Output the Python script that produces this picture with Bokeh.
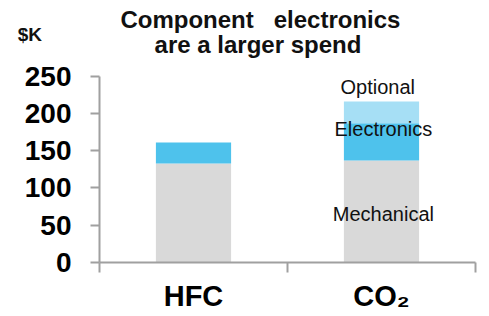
from bokeh.plotting import figure
from bokeh.models import Range1d, FixedTicker, Label, ColumnDataSource
from bokeh.embed import file_html
from bokeh.resources import INLINE

categories = ["HFC", "CO\u2082"]
segments = ["Mechanical", "Electronics", "Optional"]
mechanical = [133, 137]
electronics = [28, 50]
optional = [0, 29]
y_ticks = [0, 50, 100, 150, 200, 250]
colors = ["#D9D9D9", "#4EC2EC", "#A6DFF5"]

FONT = "Liberation Sans"
AXIS_GRAY = "#A0A0A0"
NBSP = "\u00a0"

# layout (pixels): canvas size and where the axes sit on it
W, H = 484, 316
AX_LEFT, AX_RIGHT = 99, 475      # x of value 0 and of the last category boundary
AX_BOTTOM, AX_TOP = 262, 75.7    # y of value 0 and of value 250
Y_MAX = y_ticks[-1]
n = len(categories)
px_x = (AX_RIGHT - AX_LEFT) / n
px_y = (AX_BOTTOM - AX_TOP) / Y_MAX
x_range = Range1d(-AX_LEFT / px_x, (W - AX_LEFT) / px_x)
y_range = Range1d(-(H - AX_BOTTOM) / px_y, AX_BOTTOM / px_y)

xs = [i + 0.5 for i in range(n)]
source = ColumnDataSource(dict(x=xs, Mechanical=mechanical, Electronics=electronics, Optional=optional))

p = figure(width=W, height=H, output_backend="svg", toolbar_location=None,
           x_range=x_range, y_range=y_range,
           min_border_left=0, min_border_right=0, min_border_top=0, min_border_bottom=0)
p.outline_line_color = None
p.xgrid.visible = False
p.ygrid.visible = False
p.background_fill_color = "white"
p.border_fill_color = "white"

p.vbar_stack(segments, x="x", width=0.4, source=source, color=colors, line_color=None)

# y axis, pinned at x = 0
ya = p.yaxis[0]
ya.fixed_location = 0
ya.bounds = (0, Y_MAX)
ya.ticker = FixedTicker(ticks=y_ticks)
ya.major_tick_out = 9
ya.major_tick_in = 0
ya.minor_tick_out = 0
ya.minor_tick_in = 0
ya.axis_line_color = AXIS_GRAY
ya.axis_line_width = 2
ya.major_tick_line_color = AXIS_GRAY
ya.major_tick_line_width = 2
ya.major_label_text_font = FONT
ya.major_label_text_font_size = "28px"
ya.major_label_text_font_style = "bold"
ya.major_label_text_color = "black"
ya.major_label_standoff = 19

# x axis, pinned at y = 0: marks at category boundaries, labels at centres
xa = p.xaxis[0]
xa.fixed_location = 0
xa.bounds = (0, n)
xa.ticker = FixedTicker(ticks=xs, minor_ticks=list(range(n + 1)))
xa.major_label_overrides = {x: c for x, c in zip(xs, categories)}
xa.minor_tick_out = 10
xa.minor_tick_in = 0
xa.minor_tick_line_color = AXIS_GRAY
xa.minor_tick_line_width = 2
xa.major_tick_out = 0
xa.major_tick_in = 0
xa.axis_line_color = AXIS_GRAY
xa.axis_line_width = 2
xa.major_label_text_font = FONT
xa.major_label_text_font_size = "29px"
xa.major_label_text_font_style = "bold"
xa.major_label_text_color = "black"
xa.major_label_standoff = 7

# segment labels in the CO2 bar
for txt, lx, ly in [("Optional", 1.48, 235.8), ("Electronics", 1.51, 178.5), ("Mechanical", 1.51, 64.8)]:
    p.add_layout(Label(x=lx, y=ly, text=txt, text_align="center", text_baseline="alphabetic",
                       text_font=FONT, text_font_size="20px", text_color="#111111"))

# title and unit
p.add_layout(Label(x=0.856, y=326.0, text="Component" + NBSP * 3 + "electronics", text_align="center",
                   text_baseline="alphabetic", text_font=FONT, text_font_size="24px",
                   text_font_style="bold", text_color="#111111"))
p.add_layout(Label(x=0.843, y=292.5, text="are a larger spend", text_align="center",
                   text_baseline="alphabetic", text_font=FONT, text_font_size="24px",
                   text_font_style="bold", text_color="#111111"))
p.add_layout(Label(x=-0.435, y=306.4, text="$K", text_align="left", text_baseline="alphabetic",
                   text_font=FONT, text_font_size="19px", text_font_style="bold", text_color="#111111"))

open("out.html", "w").write(file_html(p, INLINE))
